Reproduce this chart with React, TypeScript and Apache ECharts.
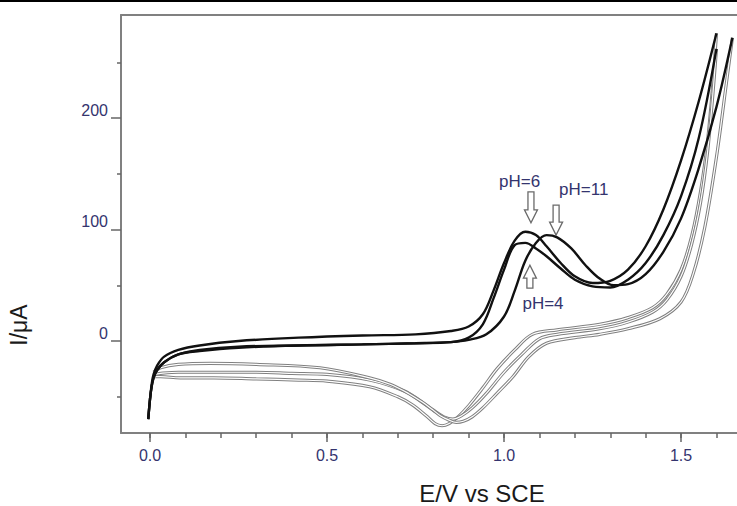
import React, { useEffect, useRef } from "react";
import * as echarts from "echarts";

// Potential axis ticks (V vs SCE)
const potentialMinorTicks = [0, 0.1, 0.2, 0.3, 0.4, 0.5, 0.6, 0.7, 0.8, 0.9, 1.0, 1.1, 1.2, 1.3, 1.4, 1.5, 1.6];
const potentialLabels = [0, 0.5, 1.0, 1.5];
// Current axis ticks (µA)
const currentLabels = [0, 100, 200];
const currentMinorTicks = [-50, 50, 150, 250];

// pH = 6 : anodic (forward) sweep
const ph6ForwardE = [-0.005, 0.0, 0.005, 0.01, 0.02, 0.04, 0.08, 0.14, 0.25, 0.42, 0.6, 0.75, 0.85, 0.9, 0.94, 0.97, 1.0, 1.03, 1.06, 1.09, 1.12, 1.16, 1.2, 1.25, 1.3, 1.35, 1.4, 1.45, 1.5, 1.55, 1.6];
const ph6ForwardI = [-70, -52, -38, -30, -22, -14, -8, -4, 0, 3, 5, 6, 9, 13, 24, 45, 70, 90, 98, 95, 85, 70, 58, 52, 54, 64, 85, 118, 162, 215, 276];
// pH = 6 : reverse sweep
const ph6ReverseE = [1.6, 1.59, 1.575, 1.555, 1.53, 1.5, 1.46, 1.42, 1.35, 1.27, 1.15, 1.08, 1.03, 0.98, 0.94, 0.9, 0.87, 0.845, 0.825, 0.805, 0.78, 0.74, 0.7, 0.62, 0.5, 0.42, 0.3, 0.18, 0.085, 0.03, 0.01];
const ph6ReverseI = [276, 232, 180, 134, 94, 64, 42, 30, 21, 15, 10, 6, -8, -25, -42, -58, -68, -74, -76, -74, -67, -57, -50, -41, -36, -35, -34, -33, -33, -32, -32];

// pH = 4 : anodic (forward) sweep
const ph4ForwardE = [-0.005, 0.0, 0.005, 0.01, 0.02, 0.04, 0.08, 0.14, 0.25, 0.42, 0.6, 0.75, 0.85, 0.9, 0.94, 0.97, 1.0, 1.03, 1.06, 1.09, 1.12, 1.16, 1.2, 1.25, 1.3, 1.35, 1.4, 1.45, 1.5, 1.55, 1.6];
const ph4ForwardI = [-70, -52, -40, -33, -26, -19, -12, -9, -6, -4, -3, -2, -1, 3, 15, 38, 64, 86, 88, 83, 76, 65, 55, 49, 48, 55, 70, 95, 130, 182, 262];
// pH = 4 : reverse sweep
const ph4ReverseE = [1.6, 1.59, 1.575, 1.555, 1.53, 1.5, 1.46, 1.42, 1.35, 1.27, 1.15, 1.1, 1.05, 1.0, 0.95, 0.91, 0.88, 0.855, 0.83, 0.8, 0.76, 0.72, 0.62, 0.5, 0.4, 0.3, 0.18, 0.08, 0.03, 0.01];
const ph4ReverseI = [262, 222, 170, 124, 87, 58, 37, 26, 17, 11, 6, 2, -12, -28, -47, -60, -67, -70, -68, -62, -53, -45, -35, -30, -29, -28, -28, -28, -29, -30];

// pH = 11 : anodic (forward) sweep
const ph11ForwardE = [-0.005, 0.0, 0.005, 0.01, 0.02, 0.04, 0.08, 0.14, 0.25, 0.42, 0.6, 0.75, 0.85, 0.9, 0.95, 1.0, 1.03, 1.06, 1.09, 1.12, 1.15, 1.19, 1.23, 1.27, 1.31, 1.35, 1.4, 1.45, 1.5, 1.55, 1.6, 1.645];
const ph11ForwardI = [-70, -52, -40, -33, -26, -19, -12, -8, -5, -4, -3, -2, -1, 1, 6, 22, 45, 72, 88, 95, 93, 83, 68, 56, 50, 51, 60, 80, 110, 155, 210, 272];
// pH = 11 : reverse sweep
const ph11ReverseE = [1.645, 1.63, 1.6, 1.567, 1.534, 1.5, 1.44, 1.35, 1.27, 1.2, 1.12, 1.07, 1.025, 0.98, 0.94, 0.91, 0.885, 0.865, 0.845, 0.82, 0.8, 0.77, 0.73, 0.68, 0.62, 0.48, 0.3, 0.17, 0.08, 0.03, 0.01];
const ph11ReverseI = [272, 236, 165, 102, 60, 35, 20, 11, 6, 3, -2, -14, -32, -47, -60, -68, -72, -73, -71, -67, -62, -55, -47, -39, -33, -24, -21, -20, -21, -24, -28];

// Peak annotations: label text, label anchor and arrow tip (in data units)
const annotationText = ["pH=6", "pH=11", "pH=4"];
const annotationLabelE = [1.044, 1.225, 1.11];
const annotationLabelI = [143, 136, 34];
const arrowTipE = [1.076, 1.147, 1.073];
const arrowTipI = [106, 95, 68];
const arrowPointsDown = [true, true, false];

const ARROW_LENGTHS = [31, 30, 23];
const pairs = (xs: number[], ys: number[]) => xs.map((x, i) => [x, ys[i]]);

const LABEL_COLOR = "#34346e";
const FRAME_COLOR = "#808080";
const FONT = "'Liberation Sans', Arial, sans-serif";

export default function App() {
  const ref = useRef<HTMLDivElement>(null);

  useEffect(() => {
    if (!ref.current) return;
    const chart = echarts.init(ref.current, undefined, { renderer: "svg" });

    const forward = [
      pairs(ph6ForwardE, ph6ForwardI),
      pairs(ph4ForwardE, ph4ForwardI),
      pairs(ph11ForwardE, ph11ForwardI),
    ];
    const reverse = [
      pairs(ph6ReverseE, ph6ReverseI),
      pairs(ph4ReverseE, ph4ReverseI),
      pairs(ph11ReverseE, ph11ReverseI),
    ];

    const lineBase = { type: "line", showSymbol: false, smooth: 0.35, silent: true };
    const series: any[] = [];
    // reverse sweeps drawn as hollow (outlined) traces
    reverse.forEach((d) => {
      series.push({ ...lineBase, data: d, lineStyle: { color: "#808080", width: 3.2 } });
      series.push({ ...lineBase, data: d, lineStyle: { color: "#ffffff", width: 1.2 } });
    });
    // forward sweeps: heavy black traces
    forward.forEach((d) => {
      series.push({ ...lineBase, data: d, lineStyle: { color: "#111111", width: 2.4 } });
    });

    const xRange = { min: -0.082, max: 1.658 };
    const yRange = { min: -82.5, max: 292.4 };

    chart.setOption({
      animation: false,
      backgroundColor: "#ffffff",
      grid: { left: 121, top: 15, bottom: 73, right: 0 },
      xAxis: [
        {
          type: "value",
          position: "bottom",
          ...xRange,
          axisLine: { show: true, onZero: false, lineStyle: { color: FRAME_COLOR, width: 2 } },
          axisTick: {
            show: true,
            customValues: potentialLabels,
            length: 9,
            lineStyle: { color: "#666", width: 1.5 },
          },
          axisLabel: {
            customValues: potentialLabels,
            formatter: (v: number) => v.toFixed(1),
            color: LABEL_COLOR,
            fontFamily: FONT,
            fontSize: 16,
            margin: 14,
          },
          splitLine: { show: false },
        },
        {
          type: "value",
          position: "bottom",
          ...xRange,
          axisLine: { show: false, onZero: false },
          axisTick: {
            show: true,
            customValues: potentialMinorTicks,
            length: 5,
            lineStyle: { color: "#666", width: 1.5 },
          },
          axisLabel: { show: false },
          splitLine: { show: false },
        },
        {
          // upper frame edge
          type: "value",
          position: "top",
          ...xRange,
          axisLine: { show: true, onZero: false, lineStyle: { color: FRAME_COLOR, width: 2 } },
          axisTick: { show: false },
          axisLabel: { show: false },
          splitLine: { show: false },
        },
      ],
      yAxis: [
        {
          type: "value",
          position: "left",
          ...yRange,
          axisLine: { show: true, onZero: false, lineStyle: { color: FRAME_COLOR, width: 2 } },
          axisTick: {
            show: true,
            customValues: currentLabels,
            length: 10,
            lineStyle: { color: "#666", width: 1.5 },
          },
          axisLabel: {
            customValues: currentLabels,
            color: LABEL_COLOR,
            fontFamily: FONT,
            fontSize: 16,
            margin: 13,
            verticalAlign: "bottom",
          },
          splitLine: { show: false },
        },
        {
          type: "value",
          position: "left",
          ...yRange,
          axisLine: { show: false, onZero: false },
          axisTick: {
            show: true,
            customValues: currentMinorTicks,
            length: 4,
            lineStyle: { color: "#666", width: 1.5 },
          },
          axisLabel: { show: false },
          splitLine: { show: false },
        },
      ],
      series,
    });

    // annotations positioned from data coordinates
    const toPx = (e: number, i: number) =>
      chart.convertToPixel({ seriesIndex: 0 }, [e, i]) as number[];
    const graphics: any[] = [
      { type: "rect", shape: { x: 0, y: 0, width: 737, height: 2 }, style: { fill: "#000" }, silent: true },
      {
        type: "text",
        x: 482,
        y: 493,
        style: {
          text: "E/V vs SCE",
          font: `24px ${FONT}`,
          fill: "#1a1a1a",
          align: "center",
          verticalAlign: "middle",
        },
      },
      {
        type: "text",
        x: 19,
        y: 325,
        rotation: Math.PI / 2,
        style: {
          text: "I/μA",
          font: `23px ${FONT}`,
          fill: "#1a1a1a",
          align: "center",
          verticalAlign: "middle",
        },
      },
    ];

    annotationText.forEach((t, k) => {
      const [lx, ly] = toPx(annotationLabelE[k], annotationLabelI[k]);
      graphics.push({
        type: "text",
        x: lx,
        y: ly,
        style: {
          text: t,
          font: `17px ${FONT}`,
          fill: LABEL_COLOR,
          align: "center",
          verticalAlign: "middle",
        },
      });
      const [tx, ty] = toPx(arrowTipE[k], arrowTipI[k]);
      const s = arrowPointsDown[k] ? 1 : -1;
      const len = ARROW_LENGTHS[k];
      const pts = [
        [0, 0],
        [-6.5, -13],
        [-3, -13],
        [-3, -len],
        [3, -len],
        [3, -13],
        [6.5, -13],
      ].map(([px, py]) => [tx + px, ty + s * py]);
      graphics.push({
        type: "polygon",
        shape: { points: pts },
        style: { fill: "#ffffff", stroke: "#6a6a6a", lineWidth: 1.3 },
        silent: true,
      });
    });

    chart.setOption({ graphic: graphics });

    return () => chart.dispose();
  }, []);

  return (
    <div
      ref={ref}
      style={{ position: "absolute", left: 0, top: 0, width: 737, height: 506, background: "#fff" }}
    />
  );
}
